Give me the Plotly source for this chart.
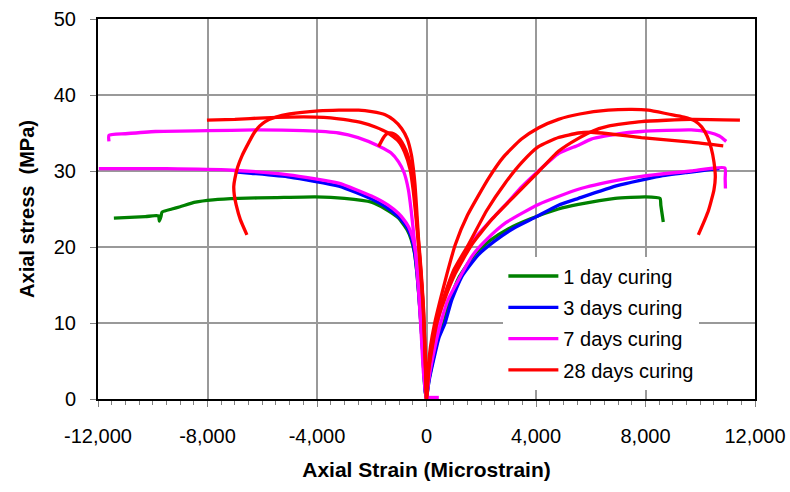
import plotly.graph_objects as go

# ---------------- data (strain in microstrain, stress in MPa) ----------------
# 1 day curing
d1_left_x = [0, -55, -150, -245, -340, -440, -560, -700, -1020, -1500, -2010, -3000, -4060, -5500, -6860, -7800, -8440, -9000, -9300, -9660, -9700, -9760, -9790, -10270, -11420]
d1_left_y = [0, 1.2, 7, 12, 16.2, 19.2, 21.0, 22.2, 23.8, 25.0, 25.9, 26.4, 26.6, 26.5, 26.4, 26.2, 25.9, 25.3, 25.0, 24.6, 24.0, 23.4, 24.1, 24.0, 23.8]
d1_right_x = [0, 90, 230, 420, 630, 860, 1200, 1750, 2300, 3000, 3800, 4820, 5550, 6890, 8000, 8530, 8560, 8600, 8650]
d1_right_y = [0, 2.5, 5, 8, 10, 13, 16.1, 19, 20.8, 22.4, 23.7, 25.0, 25.6, 26.4, 26.6, 26.4, 25.5, 24.5, 23.3]

# 3 days curing
d3_left_x = [0, -55, -150, -245, -340, -440, -560, -700, -900, -1100, -1500, -2000, -3200, -5000, -6400, -7000]
d3_left_y = [0, 1.2, 7, 12, 16.3, 19.4, 21.3, 22.5, 23.5, 24.2, 25.3, 26.3, 28.0, 29.2, 29.7, 29.9]
d3_right_x = [0, 100, 250, 450, 680, 920, 1290, 1900, 2500, 3200, 3970, 4820, 5550, 7000, 8500, 9500, 10400, 10700]
d3_right_y = [0, 2.5, 5, 8, 10, 13, 16.1, 19, 20.8, 22.5, 23.9, 25.5, 26.4, 28.1, 29.3, 29.8, 30.2, 30.3]

# 7 days curing (two specimens + short base trace)
d7a_left_x = [0, -50, -140, -230, -320, -410, -530, -660, -850, -1020, -1400, -2010, -3210, -5040, -7100, -9500, -11970]
d7a_left_y = [0, 1.2, 7, 12.1, 16.5, 19.6, 21.5, 22.7, 23.7, 24.4, 25.5, 26.7, 28.4, 29.5, 30.1, 30.3, 30.3]
d7a_right_x = [0, 80, 200, 380, 520, 780, 1170, 1700, 2200, 2900, 4090, 5550, 7000, 7850, 9670, 10900, 10910, 10920]
d7a_right_y = [0, 2.5, 5, 8, 10, 13, 15.7, 19, 21, 23.2, 25.6, 27.6, 28.8, 29.3, 30.0, 30.4, 29.0, 27.7]
d7b_left_x = [0, -60, -110, -200, -290, -380, -470, -560, -660, -820, -1020, -1300, -1750, -2500, -3210, -4500, -6250, -8000, -9900, -11000, -11600, -11600]
d7b_left_y = [0, 2, 3.4, 9, 14.3, 18.5, 21.8, 24.8, 27.5, 29.8, 31.2, 32.4, 33.3, 34.4, 35.0, 35.3, 35.4, 35.3, 35.2, 34.9, 34.7, 33.9]
d7b_right_x = [0, 80, 200, 350, 500, 750, 1100, 1850, 2870, 3500, 4090, 4820, 5550, 6020, 7000, 7850, 9670, 10300, 10700, 10950]
d7b_right_y = [0, 3, 6, 9, 11.5, 14.5, 17.5, 21.5, 25.5, 28.0, 30.0, 32.3, 33.4, 34.2, 34.9, 35.2, 35.4, 35.1, 34.6, 33.9]
d7_base_x = [0, 450]
d7_base_y = [0.2, 0.2]

# 28 days curing (three specimens)
d28a_left_x = [0, -50, -110, -200, -290, -360, -420, -480, -550, -700, -910, -1200, -1510, -2000, -2480, -3200, -3940, -5000, -5500, -5890, -6100, -6300, -6500, -6740, -6900, -7000, -7040, -7020, -6950, -6800, -6560]
d28a_left_y = [0, 6, 12, 17, 21, 25, 28.2, 30.3, 32.1, 34.2, 35.6, 36.7, 37.4, 37.8, 38.0, 38.0, 37.9, 37.5, 37.1, 36.5, 35.9, 35.0, 33.7, 32.0, 30.5, 29.0, 28.0, 26.8, 25.5, 23.6, 21.6]
d28a_right_x = [0, 60, 150, 300, 500, 750, 1050, 1500, 2260, 2800, 3470, 4100, 4820, 5600, 6640, 7500, 8100, 8830, 9400, 9800, 10050, 10250, 10400, 10500, 10550, 10500, 10410, 10300, 10170, 9930]
d28a_right_y = [0, 4, 7, 10, 13, 16.5, 20.3, 24.2, 29.0, 31.8, 34.2, 35.7, 36.8, 37.5, 38.0, 38.1, 38.0, 37.5, 37.1, 36.6, 35.8, 34.6, 33.0, 31.2, 29.2, 27.5, 26.2, 24.8, 23.6, 21.6]
d28b_left_x = [0, -50, -115, -210, -300, -380, -450, -530, -620, -750, -900, -1050, -1200, -1330, -1450, -1550, -1650, -1750]
d28b_left_y = [0, 6, 12, 17, 21, 24.5, 27.2, 29.5, 31.3, 32.7, 33.8, 34.5, 34.9, 35.0, 34.9, 34.5, 33.9, 33.2]
d28b_right_x = [0, 80, 200, 350, 600, 1000, 1530, 2200, 2870, 3500, 4090, 4820, 5550, 6020, 6640, 7850, 9670, 10840]
d28b_right_y = [0, 4, 7, 10, 13, 17, 20.3, 24.8, 28.4, 31.2, 33.2, 34.4, 35.0, 35.1, 34.9, 34.4, 33.8, 33.3]
d28c_left_x = [0, -55, -120, -220, -310, -400, -480, -600, -800, -1020, -1400, -1870, -2400, -2850, -3500, -4060, -5000, -5890, -7000, -8020]
d28c_left_y = [0, 6, 12, 17, 21, 24.5, 27.3, 30.2, 32.5, 33.9, 35.0, 35.8, 36.4, 36.7, 37.0, 37.1, 37.1, 37.0, 36.8, 36.7]
d28c_right_x = [0, 90, 220, 380, 650, 1050, 1650, 2400, 3240, 4090, 4820, 5550, 6100, 6640, 7850, 9670, 11450]
d28c_right_y = [0, 4, 7, 10, 13, 16.5, 20.3, 23.7, 26.8, 29.9, 32.6, 34.3, 35.3, 35.9, 36.5, 36.8, 36.7]

x_tick_vals = [-12000, -8000, -4000, 0, 4000, 8000, 12000]
x_tick_text = ["-12,000", "-8,000", "-4,000", "0", "4,000", "8,000", "12,000"]

series = [
    ("1 day curing", "#008000", [(d1_left_x, d1_left_y, d1_right_x, d1_right_y)]),
    ("3 days curing", "#0000FF", [(d3_left_x, d3_left_y, d3_right_x, d3_right_y)]),
    ("7 days curing", "#FF00FF", [(d7a_left_x, d7a_left_y, d7a_right_x, d7a_right_y),
                                  (d7b_left_x, d7b_left_y, d7b_right_x, d7b_right_y),
                                  ([], [], d7_base_x, d7_base_y)]),
    ("28 days curing", "#FF0000", [(d28a_left_x, d28a_left_y, d28a_right_x, d28a_right_y),
                                   (d28b_left_x, d28b_left_y, d28b_right_x, d28b_right_y),
                                   (d28c_left_x, d28c_left_y, d28c_right_x, d28c_right_y)]),
]

FONT = "Liberation Sans, Arial, sans-serif"
fig = go.Figure()
for gi, (name, color, specs) in enumerate(series):
    for si, (lx, ly, rx, ry) in enumerate(specs):
        xs = list(reversed(lx)) + list(rx)
        ys = list(reversed(ly)) + list(ry)
        fig.add_trace(go.Scatter(
            x=xs, y=ys, mode="lines", name=name,
            line=dict(color=color, width=3.3, shape="spline", smoothing=0.5),
            legendgroup=name, showlegend=(si == 0),
        ))

fig.update_layout(
    width=790, height=492,
    margin=dict(l=98, r=35, t=19, b=93),
    paper_bgcolor="white", plot_bgcolor="white",
    font=dict(family=FONT, size=20, color="black"),
    showlegend=True,
    legend=dict(x=0.617, y=0.375, xanchor="left", yanchor="top",
                bgcolor="white", borderwidth=0,
                font=dict(family=FONT, size=20, color="black"),
                traceorder="grouped", tracegroupgap=2.3, itemwidth=50),
)
fig.update_xaxes(
    range=[-12000, 12000], tickvals=x_tick_vals, ticktext=x_tick_text,
    automargin=False,
    showgrid=True, gridcolor="#999999", gridwidth=1.5, zeroline=False,
    showline=True, linecolor="black", linewidth=2, mirror=True,
    ticks="outside", ticklen=6, tickcolor="#808080", tickwidth=1,
    minor=dict(dtick=500, ticks="outside", ticklen=4, tickcolor="#808080", showgrid=False),
    ticklabelstandoff=12,
    tickfont=dict(family=FONT, size=20),
    title=dict(text="<b>Axial Strain (Microstrain)</b>", font=dict(family=FONT, size=21), standoff=16),
)
fig.update_yaxes(
    range=[0, 50], dtick=10,
    automargin=False,
    showgrid=True, gridcolor="#999999", gridwidth=1.5, zeroline=False,
    showline=True, linecolor="black", linewidth=2, mirror=True,
    ticks="outside", ticklen=6, tickcolor="#808080", tickwidth=1,
    ticklabelstandoff=10,
    tickfont=dict(family=FONT, size=20),
    title=dict(text="<b>Axial stress\u00a0 (MPa)</b>", font=dict(family=FONT, size=20), standoff=14),
)

fig.write_html("out.html")
